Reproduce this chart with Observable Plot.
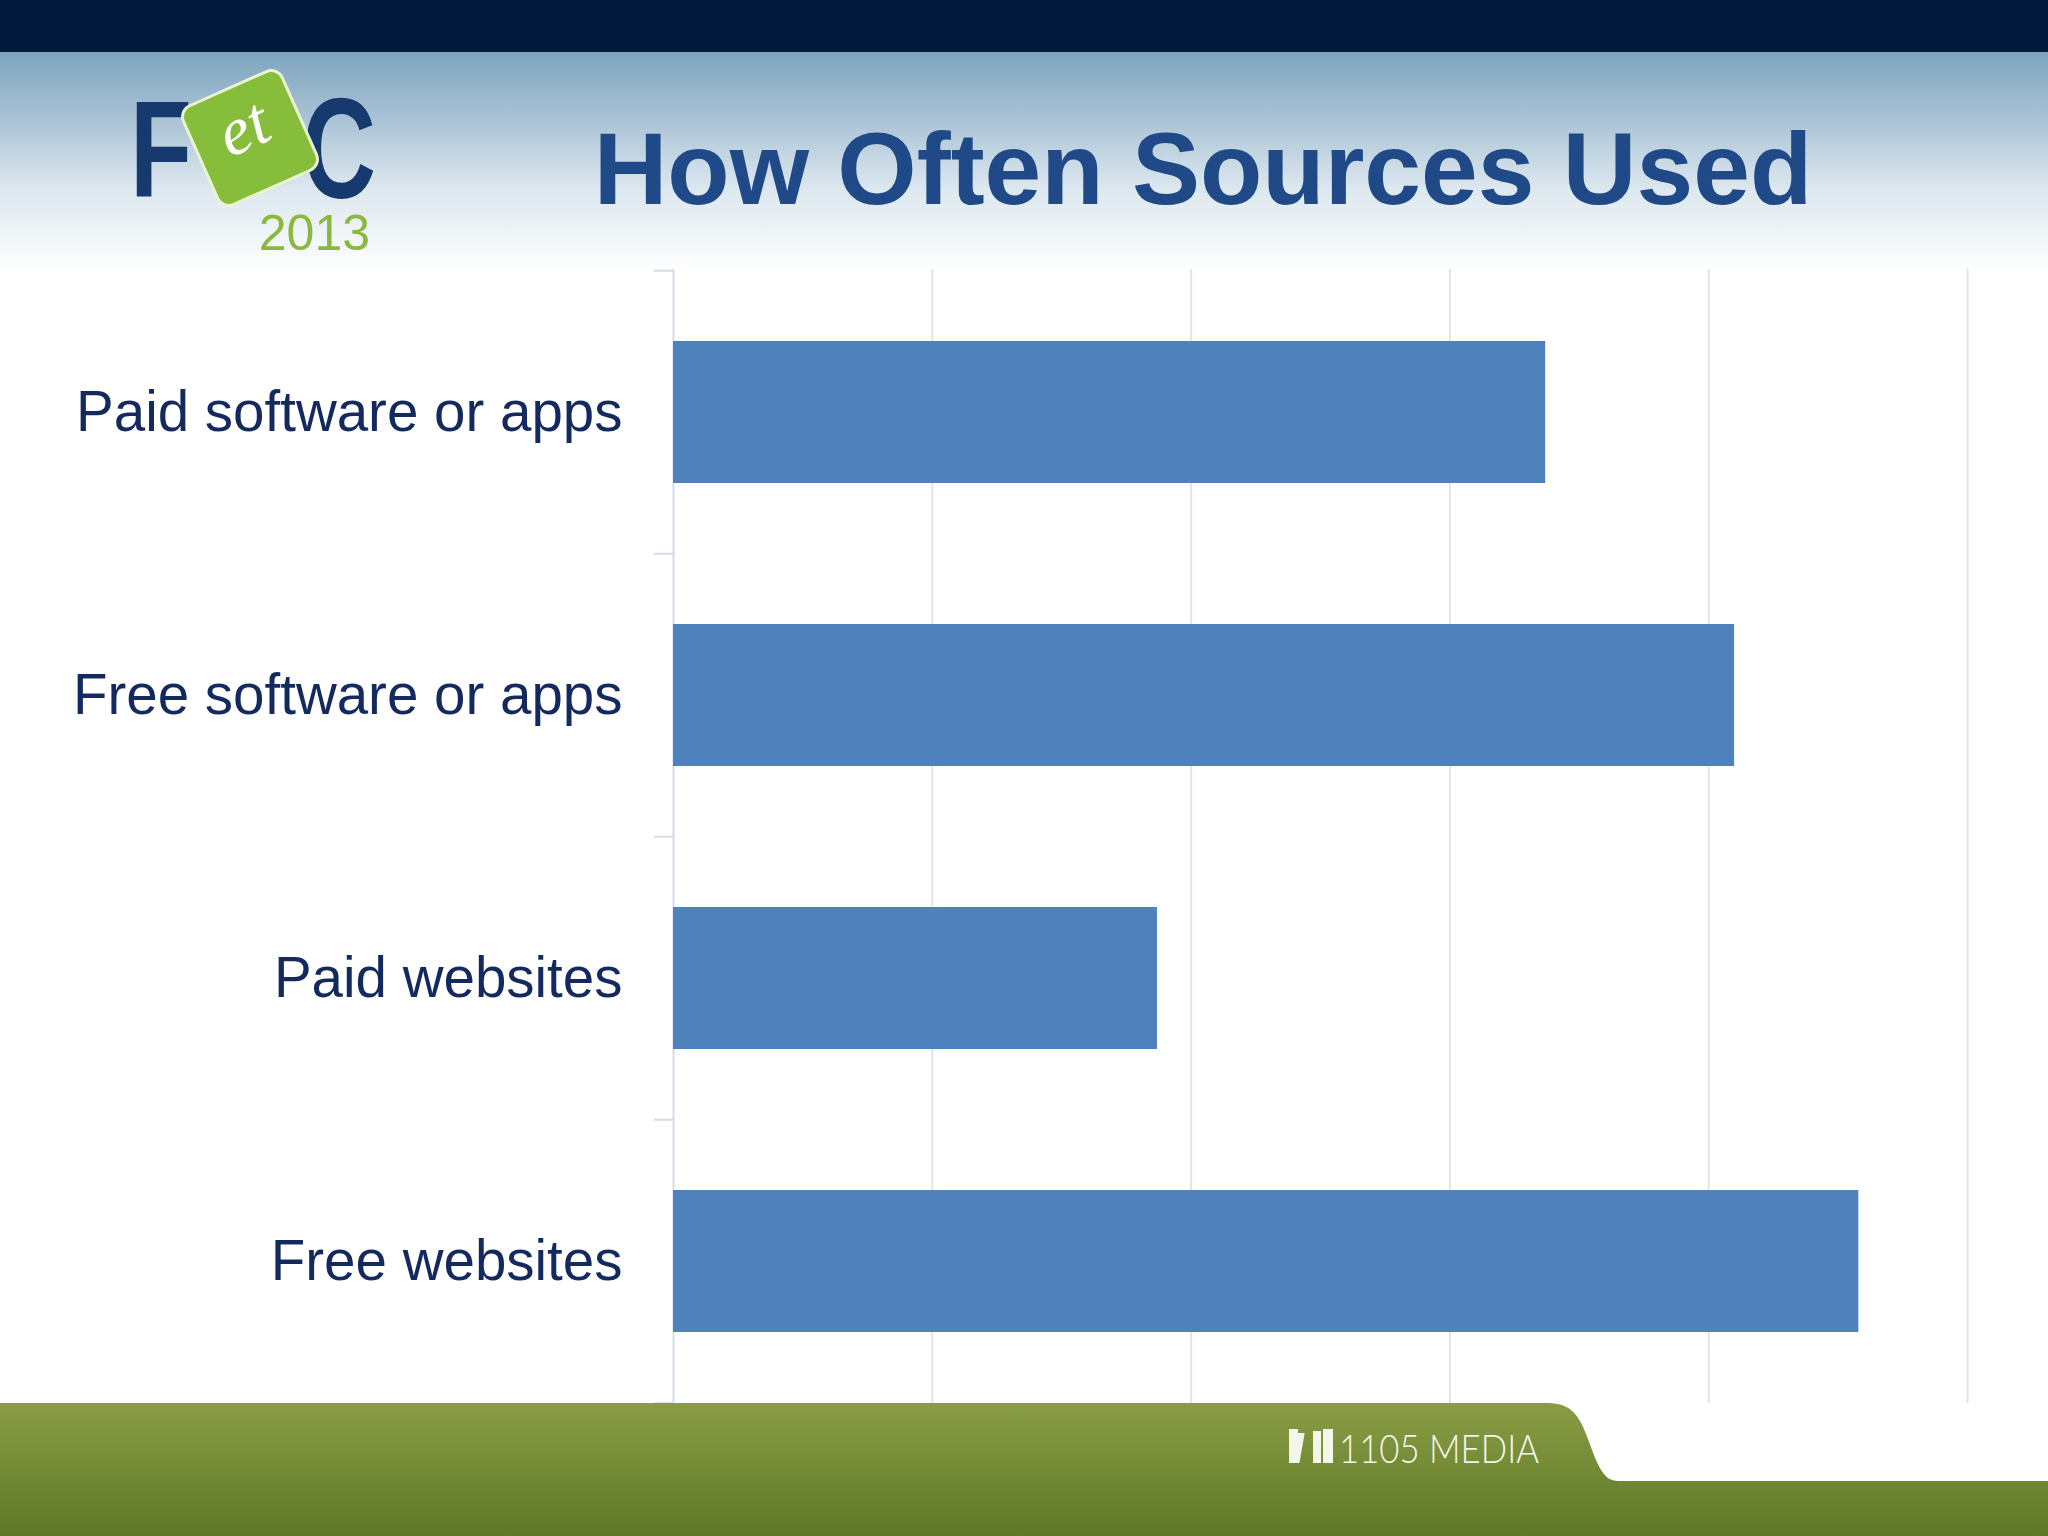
<!DOCTYPE html>
<html>
<head>
<meta charset="utf-8">
<script src="https://cdn.jsdelivr.net/npm/d3@7"></script>
<script src="https://cdn.jsdelivr.net/npm/@observablehq/plot@0.6"></script>
<style>
  html, body { margin: 0; padding: 0; background: #fff; }
  #page { position: relative; width: 2048px; height: 1536px; overflow: hidden; background: #fff; font-family: "Liberation Sans", Arial, sans-serif; }
  #topbar { position: absolute; left: 0; top: 0; width: 2048px; height: 52px; background: #001a3b; }
  #headgrad { position: absolute; left: 0; top: 52px; width: 2048px; height: 220px;
    background: linear-gradient(to bottom, #7ea3bf 0%, #a9c2d5 30%, #dce7ef 62%, #ffffff 100%); }
  #title { position: absolute; left: 0; width: 2048px; top: 118px; text-align: center; padding-left: 358px; box-sizing: border-box;
    font-weight: bold; font-size: 102px; color: #1f4a87; line-height: 1; }
  #chart { position: absolute; left: 0; top: 230px; }
  #footer { position: absolute; left: 0; top: 1403px; width: 2048px; height: 133px; }
</style>
</head>
<body>
<div id="page">
  <div id="topbar"></div>
  <div id="headgrad"></div>
  <svg id="logo" style="position:absolute;left:0;top:52px" width="420" height="210" viewBox="0 52 420 210">
    <text x="130" y="197" font-family="Liberation Sans, Arial" font-weight="bold" font-size="138" fill="#163a6e" textLength="62" lengthAdjust="spacingAndGlyphs">F</text>
    <text x="302" y="198" font-family="Liberation Sans, Arial" font-weight="bold" font-size="142" fill="#163a6e" textLength="74" lengthAdjust="spacingAndGlyphs">C</text>
    <g transform="translate(250,138) rotate(-24)">
      <rect x="-54" y="-54" width="108" height="108" rx="12" fill="#86bd3a" stroke="#e8f5d0" stroke-width="3"/>
      <text x="-2" y="10" text-anchor="middle" font-family="Liberation Serif, serif" font-style="italic" font-size="68" fill="#ffffff">et</text>
    </g>
    <text x="370" y="250" text-anchor="end" font-family="Liberation Sans, Arial" font-size="50" fill="#8bb83f">2013</text>
  </svg>
  <div id="title">How Often Sources Used</div>
  <div id="chart"></div>
  <svg id="footer" width="2048" height="133" viewBox="0 0 2048 133">
    <defs>
      <linearGradient id="g" x1="0" y1="0" x2="0" y2="1">
        <stop offset="0" stop-color="#8a9d45"/>
        <stop offset="1" stop-color="#5d7826"/>
      </linearGradient>
    </defs>
    <rect x="0" y="0" width="2048" height="133" fill="url(#g)"/>
    <path d="M1548,0 C1572,0 1580,14 1588,36 C1598,64 1604,78 1618,78 L2048,78 L2048,0 Z" fill="#ffffff"/>
    <g fill="#f4f6ea">
      <rect x="1289" y="26" width="9" height="34"/>
      <rect x="1300" y="30" width="10" height="30" transform="skewX(-10)"/>
      <rect x="1313" y="28" width="8" height="32"/>
      <rect x="1323" y="26" width="10" height="34"/>
    </g>
    <text x="1339" y="60" font-family="Lato, Open Sans, sans-serif" font-weight="300" font-size="40" fill="#f4f6ea" textLength="200" lengthAdjust="spacingAndGlyphs">1105 MEDIA</text>
  </svg>
</div>
<script>
const categories = ["Paid software or apps", "Free software or apps", "Paid websites", "Free websites"];
const values = [3.37, 4.10, 1.87, 4.58];
const xTicks = [0, 1, 2, 3, 4, 5];

const data = categories.map((c, i) => ({category: c, value: values[i]}));

const chart = Plot.plot({
  width: 2048,
  height: 1200,
  marginTop: 39,
  marginBottom: 27,
  marginLeft: 673,
  marginRight: 81,
  style: {background: "transparent", fontFamily: "Liberation Sans, Arial, sans-serif"},
  x: {domain: [0, 5], axis: null},
  y: {domain: categories, paddingInner: 0.5, paddingOuter: 0.25, label: null},
  marks: [
    Plot.ruleX(xTicks.slice(1), {stroke: "#e3e3f0", strokeWidth: 2}),
    Plot.ruleX([0], {stroke: "#d6dbe8", strokeWidth: 2}),
    Plot.ruleY(categories, {x1: 0, x2: 0, insetLeft: -19, dy: -141.75, stroke: "#d6dbe8", strokeWidth: 2}),
    Plot.ruleY(categories.slice(-1), {x1: 0, x2: 0, insetLeft: -19, dy: 141.75, stroke: "#d6dbe8", strokeWidth: 2}),
    Plot.barX(data, {x: "value", y: "category", fill: "#4f81bd"}),
    Plot.axisY({tickSize: 0, tickPadding: 51, fontSize: 56.5, fill: "#142a5e", label: null})
  ]
});
document.getElementById("chart").appendChild(chart);
</script>
</body>
</html>
